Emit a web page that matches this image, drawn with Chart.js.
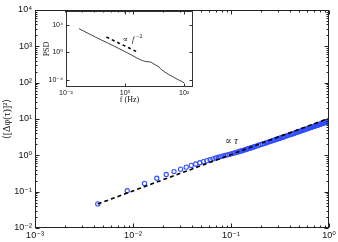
<!DOCTYPE html>
<html><head><meta charset="utf-8">
<script src="https://cdn.jsdelivr.net/npm/chart.js@4.4.1/dist/chart.umd.min.js"></script>
<style>
html,body{margin:0;padding:0;background:#fff;}
#wrap{position:relative;width:338px;height:242px;overflow:hidden;}
canvas{position:absolute;left:0;top:0;}
</style></head><body>
<div id="wrap"><canvas id="main" width="338" height="242"></canvas><canvas id="inset" width="338" height="242"></canvas></div>
<script>
// ---- main panel data ----
const tau = [0.00437,0.00873,0.0131,0.01747,0.02183,0.0262,0.03057,0.03493,0.0393,0.04367,0.04803,0.0524,0.05677,0.06114,0.0655,0.06987,0.07424,0.0786,0.08297,0.08734,0.0917,0.09607,0.10044,0.1048,0.10917,0.11354,0.1179,0.12227,0.12664,0.131,0.13537,0.13974,0.1441,0.14847,0.15284,0.1572,0.16157,0.16594,0.1703,0.17467,0.1834,0.19214,0.20087,0.2096,0.21834,0.22707,0.2358,0.24454,0.25328,0.26201,0.27074,0.27948,0.28821,0.29694,0.30568,0.31441,0.32314,0.33188,0.34061,0.34934,0.36245,0.37555,0.38865,0.40175,0.41485,0.42795,0.44105,0.45415,0.46725,0.48035,0.49345,0.50655,0.51965,0.53275,0.54585,0.55895,0.57205,0.58515,0.59825,0.61135,0.62445,0.63755,0.65066,0.66376,0.67686,0.68996,0.70306,0.71616,0.72926,0.74236,0.75546,0.76856,0.78166,0.79476,0.80786,0.82096,0.83406,0.84716,0.86026,0.87336,0.88646,0.89956,0.91266,0.92576,0.93886,0.95196,0.96506,0.97817,0.99127,1.0];
const msd = [0.046,0.106,0.169,0.235,0.298,0.358,0.417,0.473,0.528,0.578,0.625,0.671,0.715,0.758,0.801,0.844,0.885,0.924,0.963,1.000,1.035,1.069,1.102,1.139,1.175,1.210,1.244,1.281,1.319,1.356,1.394,1.433,1.472,1.511,1.549,1.588,1.627,1.666,1.704,1.742,1.820,1.896,1.972,2.049,2.125,2.201,2.278,2.355,2.431,2.506,2.581,2.659,2.736,2.812,2.889,2.965,3.040,3.115,3.190,3.265,3.379,3.494,3.607,3.721,3.833,3.945,4.057,4.168,4.278,4.388,4.502,4.617,4.731,4.844,4.958,5.071,5.184,5.296,5.408,5.521,5.632,5.744,5.855,5.966,6.077,6.187,6.297,6.407,6.516,6.626,6.735,6.843,6.952,7.060,7.168,7.275,7.383,7.490,7.597,7.703,7.809,7.915,8.021,8.126,8.232,8.336,8.441,8.545,8.649,8.715];
const fitTau = [0.00437, 1.0];
const fitMsd = [0.0459, 10.5];
const mainXExps = [-3,-2,-1,0];
const mainYExps = [-2,-1,0,1,2,3,4];
const mainNote = '\u221D';   // ∝ τ
const mainNoteVar = '\u03C4';
const mainNoteAt = [0.087, 2.45];

// ---- inset data ----
const freq = [0.0275,0.0398,0.0631,0.1,0.158,0.251,0.398,0.631,1,1.585,2.512,3.162,3.981,5.012,6.31,7.59,8.91,11.2,14.1,15.8,17.8,22.4,31.6,44.7,63.1,79.4,100];
const psd  = [2820,1259,447,166,63.1,25.1,9.55,3.55,1.32,0.468,0.158,0.0955,0.0631,0.0479,0.0447,0.0398,0.0251,0.0141,0.00794,0.00447,0.00282,0.00141,0.000562,0.000251,0.000112,0.0000708,0.0000398];
const guideF = [0.234, 2.69];
const guideP = [170, 1.1];
const insetXExps = [-2,0,2];
const insetYExps = [-4,0,4];
const insetNoteAt = [0.82, 76];

const SUP = {'-':'\u207B','0':'\u2070','1':'\u00B9','2':'\u00B2','3':'\u00B3','4':'\u2074','5':'\u2075','6':'\u2076','7':'\u2077','8':'\u2078','9':'\u2079'};
function powLabel(v){
  const e = Math.round(Math.log10(v));
  if (Math.abs(v/Math.pow(10,e) - 1) > 1e-6) return '';
  return '10' + String(e).split('').map(c=>SUP[c]).join('');
}
function logTicks(exps, minors){
  const out = [];
  for (let i=0;i<exps.length;i++){
    out.push(Math.pow(10,exps[i]));
    if (minors && i<exps.length-1) for (let m=2;m<=9;m++) out.push(m*Math.pow(10,exps[i]));
  }
  return out;
}
function isPow(v){ const e=Math.round(Math.log10(v)); return Math.abs(v/Math.pow(10,e)-1)<1e-6; }

function framePlugin(o){
  return {
    id:'frame'+o.id,
    afterDatasetsDraw(chart){
      const {ctx, chartArea:a} = chart;
      const xs = chart.scales.x, ys = chart.scales.y;
      const L = Math.round(a.left)+0.5, R = Math.round(a.right)-0.5, T = Math.round(a.top)+0.5, B = Math.round(a.bottom)-0.5;
      ctx.save();
      ctx.strokeStyle = o.color; ctx.lineWidth = 1;
      ctx.beginPath();
      xs.ticks.forEach(t=>{
        const p = Math.round(xs.getPixelForValue(t.value))+0.5;
        const len = isPow(t.value) ? o.major : o.minor;
        ctx.moveTo(p,B); ctx.lineTo(p,B-len);
        ctx.moveTo(p,T); ctx.lineTo(p,T+len);
      });
      ys.ticks.forEach(t=>{
        const p = Math.round(ys.getPixelForValue(t.value))+0.5;
        const len = isPow(t.value) ? o.major : o.minor;
        ctx.moveTo(L,p); ctx.lineTo(L+len,p);
        ctx.moveTo(R,p); ctx.lineTo(R-len,p);
      });
      ctx.stroke();
      ctx.strokeRect(L,T,R-L,B-T);
      ctx.restore();
      if (o.note) o.note(chart);
    }
  };
}

const FONT = "'Liberation Sans', Arial, 'DejaVu Sans', sans-serif";
const SERIF = "'Liberation Serif', 'DejaVu Serif', serif";

// ---------- main chart ----------
new Chart(document.getElementById('main'), {
  type:'scatter',
  data:{ datasets:[
    { data: fitTau.map((x,i)=>({x, y:fitMsd[i]})), showLine:true, borderColor:'#000', borderWidth:1.6, borderDash:[4,3], pointRadius:0, fill:false },
    { data: tau.map((x,i)=>({x, y:msd[i]})), showLine:false, pointStyle:'circle', pointRadius:2.1, pointBorderWidth:1.1, borderColor:'rgb(50,78,255)', backgroundColor:'rgba(0,0,0,0)' }
  ]},
  options:{
    responsive:false, animation:false, devicePixelRatio:1,
    plugins:{legend:{display:false}, tooltip:{enabled:false}},
    layout:{padding:{top:10,right:9,left:0,bottom:0}},
    scales:{
      x:{ type:'logarithmic', position:'bottom', min:1e-3, max:1,
        grid:{display:false, drawTicks:false}, border:{display:false},
        afterBuildTicks:s=>{ s.ticks = logTicks(mainXExps,true).map(v=>({value:v})); },
        afterFit:s=>{ s.height = 14; },
        ticks:{ autoSkip:false, maxRotation:0, minRotation:0, padding:2, color:'#111', font:{family:FONT,size:9}, callback:v=>powLabel(v) } },
      y:{ type:'logarithmic', position:'left', min:1e-2, max:1e4,
        grid:{display:false, drawTicks:false}, border:{display:false},
        afterBuildTicks:s=>{ s.ticks = logTicks(mainYExps,true).map(v=>({value:v})); },
        afterFit:s=>{ s.width = 35; },
        title:{display:true, text:'\u27E8[\u0394\u03C6(\u03C4)]\u00B2\u27E9', color:'#111', font:{family:SERIF,size:10}, padding:{top:1,bottom:0}},
        ticks:{ autoSkip:false, padding:3, color:'#111', font:{family:FONT,size:9}, callback:v=>powLabel(v) } }
    }
  },
  plugins:[framePlugin({id:'m', color:'#222', major:4, minor:2, note(chart){
    const ctx = chart.ctx;
    const px = chart.scales.x.getPixelForValue(mainNoteAt[0]);
    const py = chart.scales.y.getPixelForValue(mainNoteAt[1]);
    ctx.save(); ctx.fillStyle='#111'; ctx.textBaseline='middle'; ctx.textAlign='left';
    ctx.font = "10px " + SERIF; ctx.fillText(mainNote, px, py);
    const w = ctx.measureText(mainNote + ' ').width;
    ctx.font = "italic 10px " + SERIF; ctx.fillText(mainNoteVar, px + w, py);
    ctx.restore();
  }})]
});

// ---------- inset chart ----------
new Chart(document.getElementById('inset'), {
  type:'scatter',
  data:{ datasets:[
    { data: guideF.map((x,i)=>({x, y:guideP[i]})), showLine:true, borderColor:'#000', borderWidth:1.5, borderDash:[3,3], pointRadius:0, fill:false },
    { data: freq.map((x,i)=>({x, y:psd[i]})), showLine:true, borderColor:'#444', borderWidth:1, pointRadius:0, fill:false, tension:0 }
  ]},
  options:{
    responsive:false, animation:false, devicePixelRatio:1,
    plugins:{legend:{display:false}, tooltip:{enabled:false}},
    layout:{padding:{top:11,right:145,left:40,bottom:135}},
    scales:{
      x:{ type:'logarithmic', position:'bottom', min:1e-2, max:200,
        grid:{display:false, drawTicks:false}, border:{display:false},
        afterBuildTicks:s=>{ s.ticks = logTicks(insetXExps,false).map(v=>({value:v})); },
        afterFit:s=>{ s.height = 20; },
        title:{display:true, text:'f (Hz)', color:'#111', font:{family:SERIF,size:8}, padding:{top:0,bottom:2}},
        ticks:{ autoSkip:false, maxRotation:0, minRotation:0, padding:2, color:'#111', font:{family:FONT,size:7}, callback:v=>powLabel(v) } },
      y:{ type:'logarithmic', position:'left', min:1e-5, max:1e6,
        grid:{display:false, drawTicks:false}, border:{display:false},
        afterBuildTicks:s=>{ s.ticks = logTicks(insetYExps,false).map(v=>({value:v})); },
        afterFit:s=>{ s.width = 26; },
        title:{display:true, text:'PSD', color:'#111', font:{family:SERIF,size:8}, padding:{top:2,bottom:0}},
        ticks:{ autoSkip:false, padding:3, color:'#111', font:{family:FONT,size:7}, callback:v=>powLabel(v) } }
    }
  },
  plugins:[framePlugin({id:'i', color:'#333', major:3, minor:2, note(chart){
    const ctx = chart.ctx;
    const px = chart.scales.x.getPixelForValue(insetNoteAt[0]);
    const py = chart.scales.y.getPixelForValue(insetNoteAt[1]);
    ctx.save(); ctx.fillStyle='#111'; ctx.textBaseline='middle'; ctx.textAlign='left';
    ctx.font = "8px " + SERIF; ctx.fillText('\u221D', px, py);
    let w = ctx.measureText('\u221D  ').width;
    ctx.font = "italic 8px " + SERIF; ctx.fillText('f', px + w, py);
    w += ctx.measureText('f ').width;
    ctx.font = "6px " + SERIF; ctx.fillText('\u22122', px + w, py - 3);
    ctx.restore();
  }})]
});
</script>
</body></html>
